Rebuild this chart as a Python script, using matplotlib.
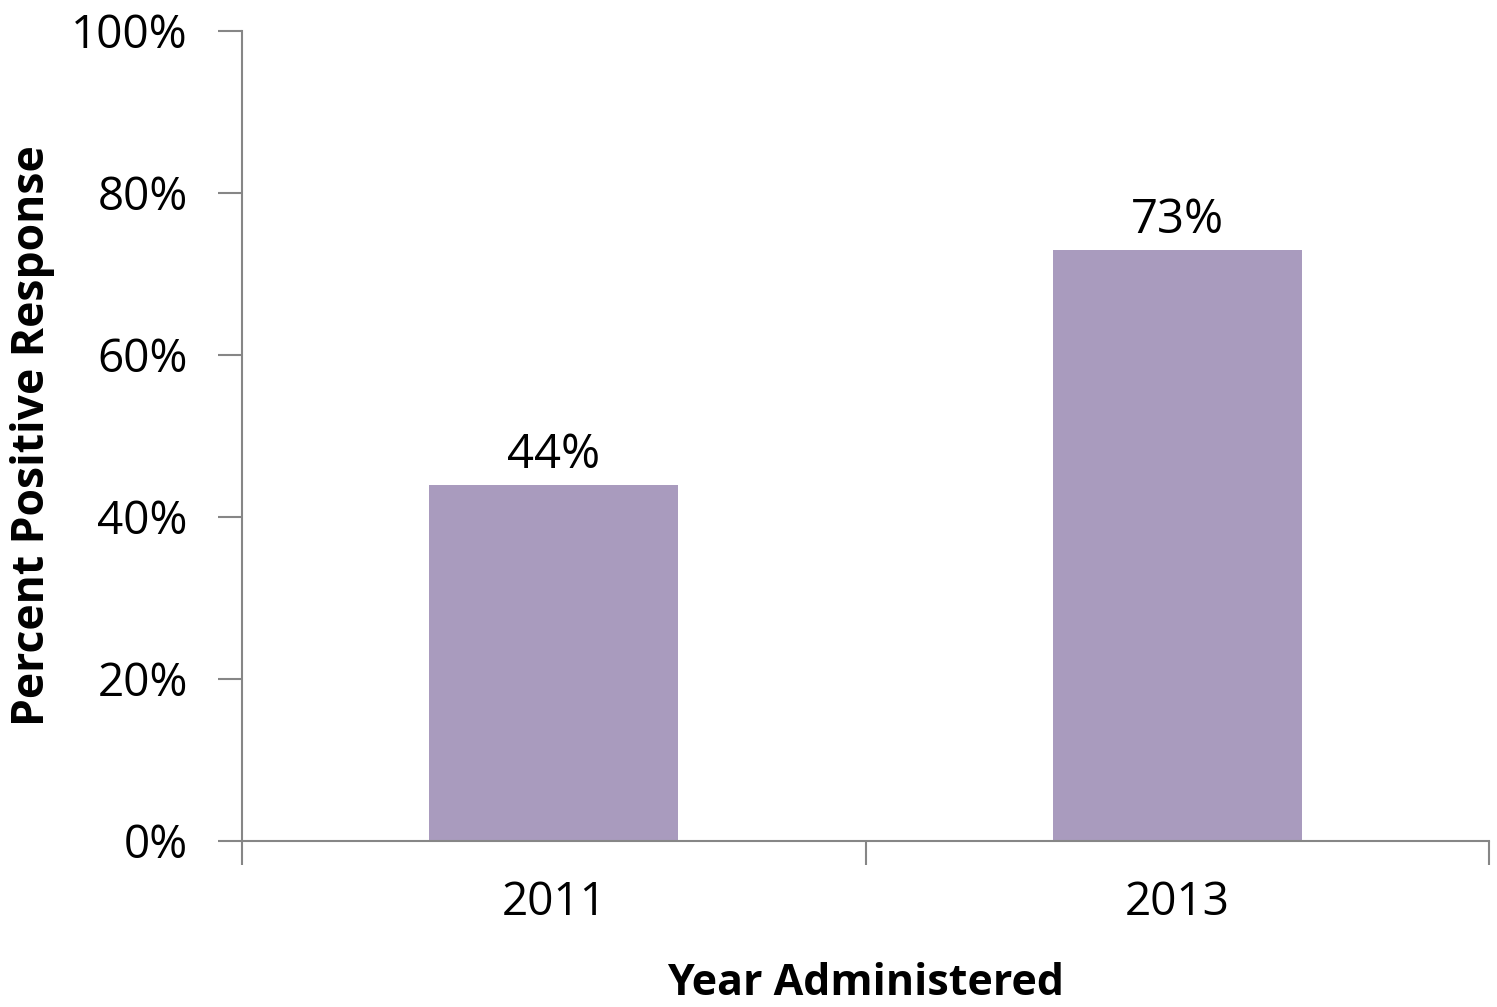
import matplotlib.pyplot as plt
import numpy as np

years = ["2011", "2013"]
values = [44, 73]
y_ticks = [0, 20, 40, 60, 80, 100]

plt.rcParams["font.family"] = ["Open Sans", "DejaVu Sans"]

fig = plt.figure(figsize=(14.97, 10.07), dpi=100)
ax = fig.add_axes([242 / 1497, 166 / 1007, 1247 / 1497, 810 / 1007])

x = np.arange(len(years))
bars = ax.bar(x, values, width=0.4, color="#A99BBE", zorder=2)

for b, v in zip(bars, values):
    ax.annotate(f"{v}%", (b.get_x() + b.get_width() / 2, v),
                xytext=(0, 4), textcoords="offset points",
                ha="center", va="bottom", fontsize=34)

ax.set_xlim(-0.5, len(years) - 0.5)
ax.set_ylim(0, 100)

# category labels sit between boundary ticks
ax.set_xticks(np.arange(-0.5, len(years), 1.0))
ax.set_xticklabels([])
ax.set_xticks(x, minor=True)
ax.set_xticklabels(years, minor=True, fontsize=33)
ax.tick_params(axis="x", which="minor", length=0, pad=28)
ax.tick_params(axis="x", which="major", length=17, width=1.5, color="#868686")

ax.set_yticks(y_ticks)
ax.set_yticklabels([f"{t}%" for t in y_ticks], fontsize=33)
ax.tick_params(axis="y", length=17, width=1.5, color="#868686", pad=22)

for side in ["top", "right"]:
    ax.spines[side].set_visible(False)
for side in ["left", "bottom"]:
    ax.spines[side].set_color("#868686")
    ax.spines[side].set_linewidth(1.5)

ax.set_ylabel("Percent Positive Response", fontsize=32, fontweight="bold", labelpad=12)
ax.set_xlabel("Year Administered", fontsize=31, fontweight="bold", labelpad=26)

fig.savefig("out.png", dpi=100)
